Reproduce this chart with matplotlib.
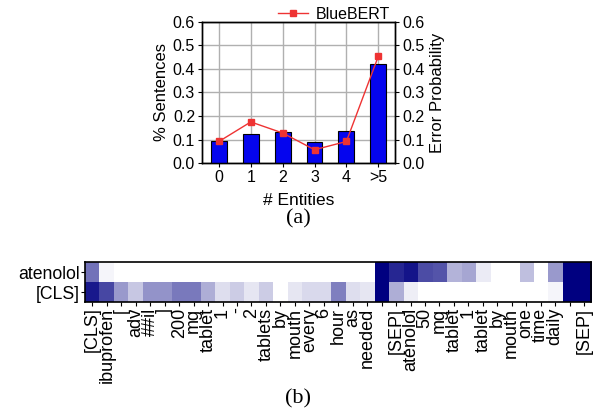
import matplotlib
matplotlib.use("Agg")
import matplotlib.pyplot as plt
import numpy as np
from matplotlib.colors import LinearSegmentedColormap

plt.rcParams['font.family'] = ['Liberation Sans', 'DejaVu Sans']
plt.rcParams['font.size'] = 12

# (a) entities vs sentences / error probability
categories = ['0', '1', '2', '3', '4', '>5']
pct_sentences = [0.095, 0.125, 0.132, 0.090, 0.137, 0.422]
error_prob = [0.092, 0.175, 0.128, 0.057, 0.092, 0.453]

# (b) attention heatmap
tokens = ['[CLS]', 'ibuprofen', '[', 'adv', '##il', ']', '200', 'mg', 'tablet', '1',
          '-', '2', 'tablets', 'by', 'mouth', 'every', '6', 'hour', 'as', 'needed',
          '', '[SEP]', 'atenolol', '50', 'mg', 'tablet', '1', 'tablet', 'by', 'mouth',
          'one', 'time', 'daily', '', '[SEP]']
rows = ['atenolol', '[CLS]']
att_atenolol = [0.55, 0.04, 0, 0, 0, 0, 0, 0, 0, 0,
                0, 0, 0, 0, 0, 0, 0, 0, 0, 0,
                1.0, 0.85, 0.92, 0.70, 0.67, 0.30, 0.35, 0.08, 0, 0,
                0.25, 0, 0.40, 1.0, 1.0]
att_cls = [0.90, 0.72, 0.40, 0.22, 0.42, 0.42, 0.52, 0.52, 0.32, 0.13,
           0.20, 0.10, 0.20, 0, 0.10, 0.15, 0.15, 0.50, 0.13, 0.10,
           1.0, 0.32, 0.07, 0, 0, 0, 0, 0, 0, 0,
           0, 0, 0.04, 1.0, 1.0]

fig = plt.figure(figsize=(5.96, 4.12), dpi=100)

ax = fig.add_axes([0.339, 0.604, 0.324, 0.343])
x = np.arange(len(categories))
ax.bar(x, pct_sentences, width=0.5, color='#0505ee', edgecolor='black', linewidth=0.8, zorder=3)
ax.set_xlim(-0.53, 5.53)
ax.set_ylim(0, 0.6)
ax.set_yticks(np.arange(0, 0.61, 0.1))
ax.set_xticks(x)
ax.set_xticklabels(categories)
ax.grid(True, color='#b0b0b0', linewidth=1.0, zorder=0)
ax.set_axisbelow(True)
ax.set_ylabel('% Sentences', labelpad=3)
ax.set_xlabel('# Entities', labelpad=6, fontsize=12.5)
ax.tick_params(direction='out', length=3, pad=2, labelsize=11.5)

ax2 = ax.twinx()
ax2.plot(x, error_prob, color='#ee3333', marker='s', markersize=4.5, linewidth=1.0,
         label='BlueBERT', zorder=4)
ax2.set_ylim(0, 0.6)
ax2.set_yticks(np.arange(0, 0.61, 0.1))
ax2.set_ylabel('Error Probability', labelpad=4)
ax2.tick_params(direction='out', length=3, pad=2, labelsize=11.5)
ax2.legend(loc='lower right', bbox_to_anchor=(1.0, 0.965), frameon=False, fontsize=11.5,
           handlelength=1.9, borderpad=0.1, handletextpad=0.5, borderaxespad=0.2)
for a in (ax, ax2):
    for s in a.spines.values():
        s.set_linewidth(1.0)

fig.text(0.5, 0.47, '(a)', ha='center', va='center', fontsize=16,
         family=['Liberation Serif', 'DejaVu Serif'])

# heatmap
cmap = LinearSegmentedColormap.from_list('navy', ['#ffffff', '#000080'])
hx = fig.add_axes([0.143, 0.267, 0.849, 0.097])
data = np.array([att_atenolol, att_cls])
hx.imshow(data, cmap=cmap, vmin=0, vmax=1, aspect='auto', interpolation='nearest')
hx.set_xticks(np.arange(len(tokens)))
hx.set_xticklabels(tokens, rotation=90, fontsize=13)
hx.set_yticks(np.arange(len(rows)))
hx.set_yticklabels(rows, fontsize=12.7)
hx.tick_params(direction='out', length=3, pad=1)
for s in hx.spines.values():
    s.set_linewidth(1.2)

fig.text(0.5, 0.032, '(b)', ha='center', va='center', fontsize=16,
         family=['Liberation Serif', 'DejaVu Serif'])

fig.savefig('out.png', dpi=100)
